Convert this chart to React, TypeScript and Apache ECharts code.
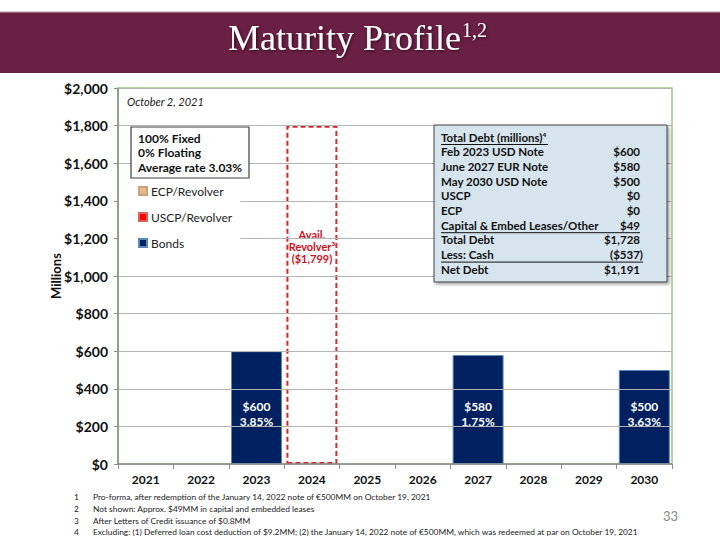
import React, { useEffect, useRef } from "react";
import * as echarts from "echarts";

const categories = ["2021", "2022", "2023", "2024", "2025", "2026", "2027", "2028", "2029", "2030"];
const bondValues = [null, null, 600, null, null, null, 580, null, null, 500];
const bondRates = ["", "", "3.85%", "", "", "", "1.75%", "", "", "3.63%"];
const revolverValues = [null, null, null, 1799, null, null, null, null, null, null];
const ecpValues = [null, null, null, null, null, null, null, null, null, null];
const uscpValues = [null, null, null, null, null, null, null, null, null, null];
const yTicks = { min: 0, max: 2000, interval: 200 };

const tableRows = [
  ["Total Debt (millions)⁴", ""],
  ["Feb 2023 USD Note", "$600"],
  ["June 2027 EUR Note", "$580"],
  ["May 2030 USD Note", "$500"],
  ["USCP", "$0"],
  ["ECP", "$0"],
  ["Capital & Embed Leases/Other", "$49"],
  ["Total Debt", "$1,728"],
  ["Less: Cash", "($537)"],
  ["Net Debt", "$1,191"],
];
const fixedLines = ["100% Fixed", "0% Floating", "Average rate 3.03%"];
const footnotes = [
  ["1", "Pro-forma, after redemption of the January 14, 2022 note of €500MM on October 19, 2021"],
  ["2", "Not shown: Approx. $49MM in capital and embedded leases"],
  ["3", "After Letters of Credit issuance of $0.8MM"],
  ["4", "Excluding: (1) Deferred loan cost deduction of $9.2MM; (2) the January 14, 2022 note of €500MM, which was redeemed at par on October 19, 2021"],
];

const FONT = "Lato, 'Noto Sans', sans-serif";
const SERIF = "'Liberation Serif', 'DejaVu Serif', serif";

export default function App() {
  const ref = useRef<HTMLDivElement>(null);
  useEffect(() => {
    if (!ref.current) return;
    const chart = echarts.init(ref.current, null, { renderer: "svg" });
    const graphics: any[] = [];
    const shadow = { textShadowColor: "rgba(0,0,0,0.6)", textShadowBlur: 3, textShadowOffsetX: 1, textShadowOffsetY: 1 };
    graphics.push({ type: "rect", shape: { x: 0, y: 12, width: 720, height: 61 }, style: { fill: "#6A1F44" }, z: 0 });
    graphics.push({ type: "line", shape: { x1: 0, y1: 12, x2: 720, y2: 12 }, style: { stroke: "#B8A0AC", lineWidth: 1 }, z: 1 });
    graphics.push({
      type: "text", x: 461, y: 56,
      style: { text: "Maturity Profile", fill: "#fff", font: `36px ${SERIF}`, align: "right", verticalAlign: "bottom", ...shadow },
      z: 2,
    });
    graphics.push({
      type: "text", x: 462, y: 40,
      style: { text: "1,2", fill: "#fff", font: `20px ${SERIF}`, align: "left", verticalAlign: "bottom", ...shadow },
      z: 2,
    });
    graphics.push({ type: "text", x: 127, y: 101, style: { text: "October 2, 2021", fill: "#222", font: `italic 11px ${FONT}`, verticalAlign: "middle" }, z: 10 });
    // fixed box
    graphics.push({ type: "rect", shape: { x: 131, y: 127, width: 118, height: 51 }, style: { fill: "#fff", stroke: "#404040", lineWidth: 1.2 }, z: 10 });
    fixedLines.forEach((t, i) => {
      graphics.push({ type: "text", x: 138, y: 138 + i * 14.5, style: { text: t, fill: "#111", font: `bold 12px ${FONT}`, verticalAlign: "middle" }, z: 11 });
    });
    // table box
    graphics.push({ type: "rect", shape: { x: 434, y: 125, width: 233, height: 157 }, style: { fill: "#D6E4EE", stroke: "#404040", lineWidth: 1, shadowColor: "rgba(0,0,0,0.35)", shadowBlur: 3, shadowOffsetX: 2, shadowOffsetY: 2 }, z: 10 });
    tableRows.forEach((r, i) => {
      const y = 137 + i * 14.7;
      graphics.push({ type: "text", x: 441, y, style: { text: r[0], fill: "#111", font: `bold 11.5px ${FONT}`, verticalAlign: "middle" }, z: 11 });
      if (r[1]) {
        graphics.push({ type: "text", x: r[1].startsWith("(") ? 643 : 640, y, style: { text: r[1], fill: "#111", font: `bold 11.5px ${FONT}`, align: "right", verticalAlign: "middle" }, z: 11 });
      }
    });
    const ul = (x1: number, x2: number, y: number) =>
      graphics.push({ type: "line", shape: { x1, y1: y, x2, y2: y }, style: { stroke: "#111", lineWidth: 1 }, z: 11 });
    ul(441, 548, 144.5);
    ul(441, 640, 144.5 + 6 * 14.7);
    ul(441, 643, 144.5 + 8 * 14.7);
    footnotes.forEach((f, i) => {
      const y = 497 + i * 11.8;
      graphics.push({ type: "text", x: 74, y, style: { text: f[0], fill: "#222", font: `8.4px ${FONT}`, verticalAlign: "middle" }, z: 10 });
      graphics.push({ type: "text", x: 93, y, style: { text: f[1], fill: "#222", font: `8.4px ${FONT}`, verticalAlign: "middle" }, z: 10 });
    });
    graphics.push({ type: "text", x: 678, y: 516, style: { text: "33", fill: "#888", font: `13px ${FONT}`, align: "right", verticalAlign: "middle" }, z: 10 });

    const common = { type: "bar", barWidth: "92%", barGap: "-100%" };
    chart.setOption({
      animation: false,
      textStyle: { fontFamily: FONT },
      grid: { left: 118, right: 48, top: 88, bottom: 76, show: true, borderColor: "#9CC97E", borderWidth: 1.5, backgroundColor: "transparent" },
      legend: {
        data: ["ECP/Revolver", "USCP/Revolver", "Bonds"],
        orient: "vertical",
        left: 119,
        top: 181,
        padding: [4, 8, 4, 19],
        backgroundColor: "#fff",
        itemWidth: 8,
        itemHeight: 8,
        itemGap: 14,
        icon: "rect",
        textStyle: { fontSize: 12, color: "#222", fontFamily: FONT, padding: [0, 0, 0, -1] },
        z: 9,
      },
      xAxis: {
        type: "category",
        data: categories,
        axisLine: { lineStyle: { color: "#8C8C8C", width: 1.5 } },
        axisTick: { show: true, length: 5, lineStyle: { color: "#8C8C8C" } },
        axisLabel: { fontWeight: "bold", fontSize: 12, color: "#111", margin: 9 },
        z: 5,
      },
      yAxis: {
        type: "value",
        min: yTicks.min,
        max: yTicks.max,
        interval: yTicks.interval,
        name: "Millions",
        nameLocation: "middle",
        nameGap: 56,
        nameMoveOverlap: false,
        nameTextStyle: { fontWeight: "bold", fontSize: 13, color: "#111" },
        axisLine: { show: true, lineStyle: { color: "#8C8C8C", width: 1.5 } },
        axisTick: { show: true, length: 4, lineStyle: { color: "#8C8C8C" } },
        splitLine: { lineStyle: { color: "#B4B4B4", width: 1.2 } },
        axisLabel: {
          fontWeight: "bold", fontSize: 14, color: "#111", margin: 10,
          formatter: (v: number) => "$" + v.toLocaleString("en-US"),
        },
        z: 5,
      },
      series: [
        { ...common, name: "ECP/Revolver", data: ecpValues, itemStyle: { color: "#E6B98C", borderColor: "#C9A27A", borderWidth: 1 } },
        { ...common, name: "USCP/Revolver", data: uscpValues, itemStyle: { color: "#FF0000", borderColor: "#E06060", borderWidth: 1 } },
        {
          ...common, name: "Bonds", data: bondValues,
          itemStyle: { color: "#002060", borderColor: "#5B86BA", borderWidth: 1 },
          label: {
            show: true, position: "insideBottom", distance: 35, color: "#fff", fontWeight: "bold", fontSize: 12, lineHeight: 15,
            formatter: (p: any) => `$${p.value}\n${bondRates[p.dataIndex]}`,
          },
        },
        {
          ...common, name: "Revolver", data: revolverValues,
          itemStyle: { color: "rgba(255,255,255,0)", borderColor: "#D8262E", borderWidth: 2, borderType: [5, 3] },
          label: {
            show: true, position: "insideTop", distance: 103, color: "#D0101A", fontWeight: "bold", fontSize: 11, lineHeight: 12,
            formatter: () => "Avail.\nRevolver³\n($1,799)",
          },
        },
      ],
      graphic: graphics,
    });
    return () => chart.dispose();
  }, []);
  return <div ref={ref} style={{ width: 720, height: 540, position: "absolute", left: 0, top: 0 }} />;
}
